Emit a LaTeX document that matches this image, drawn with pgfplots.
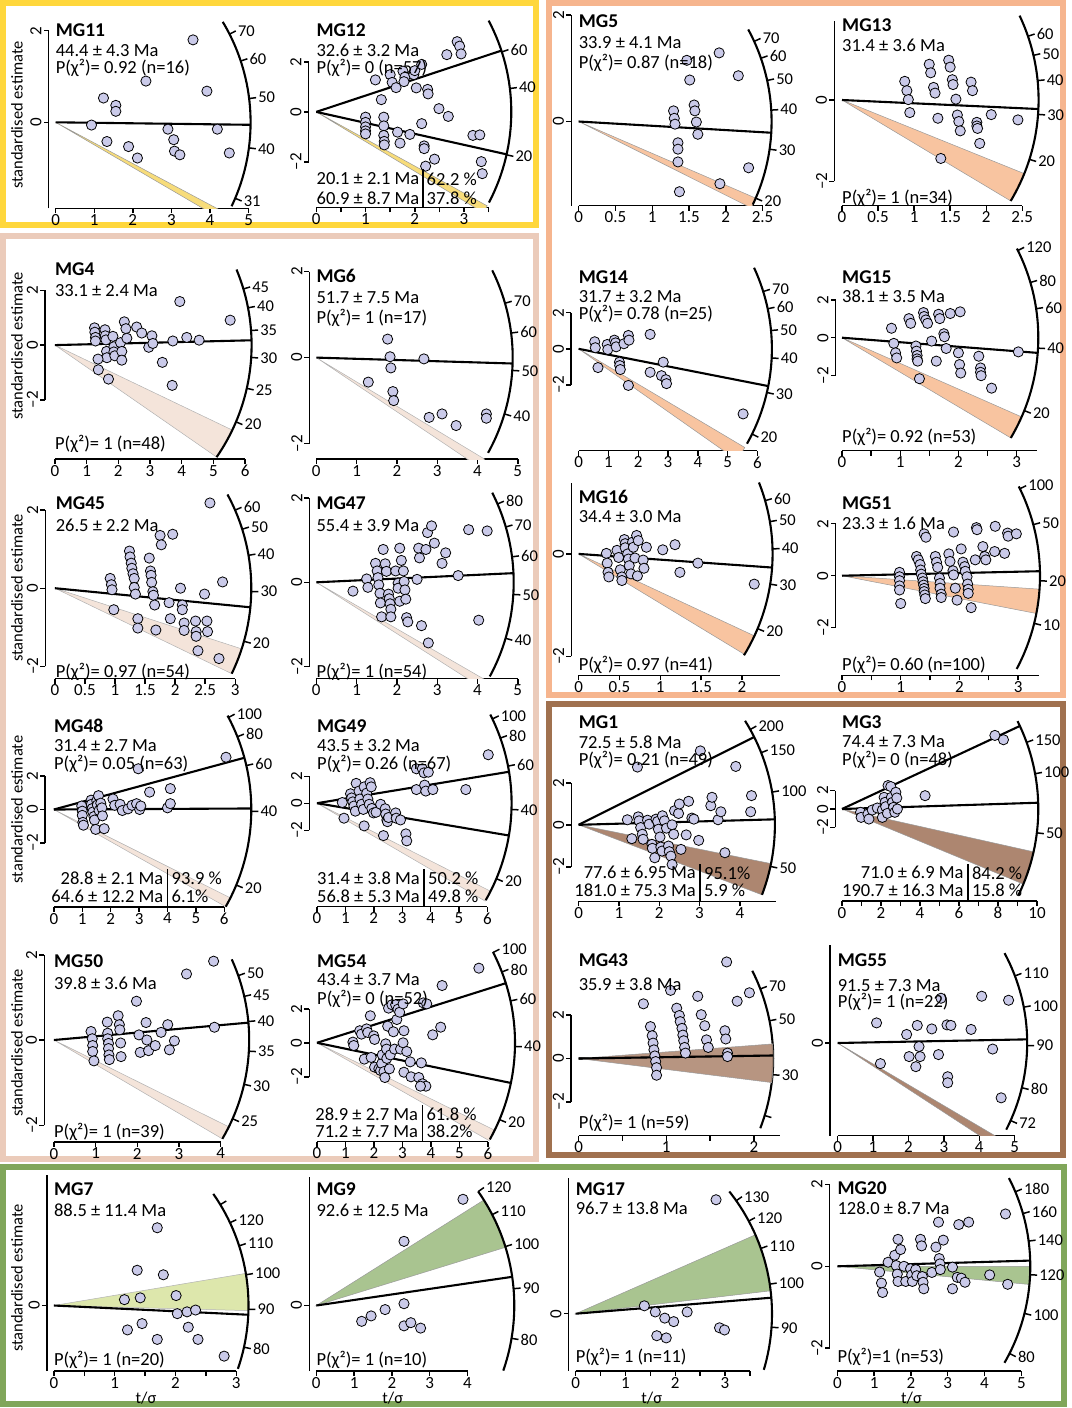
\documentclass[border=0pt]{standalone}
\usepackage{fontspec}
\setmainfont{Carlito}
\usepackage{pgfplots}
\pgfplotsset{compat=1.18}
\definecolor{ptc}{HTML}{CACAE9}
\definecolor{yelB}{HTML}{FFD73C}
\definecolor{orB}{HTML}{F6B58E}
\definecolor{pkB}{HTML}{EBCBBA}
\definecolor{brB}{HTML}{A0714F}
\definecolor{grB}{HTML}{80A65A}
\definecolor{yelW}{HTML}{F7DC7A}
\definecolor{orW}{HTML}{F8C4A0}
\definecolor{pkW}{HTML}{F4E4DA}
\definecolor{brW}{HTML}{AD8670}
\definecolor{grW}{HTML}{A9C490}
\definecolor{lgW}{HTML}{DDE7AC}
\newcommand{\tf}{\fontsize{18.5}{21}\selectfont}
\newcommand{\ttf}{\fontsize{19.5}{22}\selectfont\bfseries}
\newcommand{\tkf}{\fontsize{16.5}{19}\selectfont}
\newcommand{\xtf}{\fontsize{17}{19}\selectfont}
\tikzset{
 rline/.style={black,line width=2.1pt},
 arcst/.style={black,line width=2.1pt},
 arctk/.style={black,line width=1.5pt},
 axst/.style={black,line width=1.4pt},
 yw/.style={fill=yelW,draw=black!40,line width=0.5pt},
 ow/.style={fill=orW,draw=black!40,line width=0.5pt},
 pw/.style={fill=pkW,draw=black!30,line width=0.5pt},
 bw/.style={fill=brW,draw=black!40,line width=0.5pt},
 gw/.style={fill=grW,draw=black!40,line width=0.5pt},
 lw/.style={fill=lgW,draw=black!30,line width=0.5pt},
 txt/.style={anchor=west,font=\tf,inner sep=0pt},
 ttl/.style={anchor=west,font=\ttf,inner sep=0pt},
 txe/.style={anchor=east,font=\tf,inner sep=0pt},
}
\pgfplotsset{
 rp/.style={anchor=origin,clip=false,axis x line*=bottom,axis y line=none,ytick=\empty,
  ymax=5,tick align=outside,major tick length=5pt,
  tick style={black,line width=1.4pt},
  axis line style={black,line width=1.4pt,-},
  every outer x axis line/.append style={-},
  xticklabel style={font=\xtf,inner sep=1pt},
  /pgf/number format/assume math mode=true},
 pts/.style={only marks,mark=*,mark size=5.1pt,mark options={fill=ptc,draw=black,line width=0.8pt}},
}
\newcommand{\setp}[4]{\def\T{#1}\def\K{#2}\def\R{#3pt}\def\YM{#4}}
\newcommand{\ang}[1]{atan(\K*ln(#1/\T))}
\newcommand{\aline}[1]{\draw[rline] (axis cs:0,0) -- ++({\ang{#1}}:\R);}
\newcommand{\dline}[1]{\draw[rline] (axis cs:0,0) -- ++(#1:\R);}
\newcommand{\atk}[2]{\draw[arctk] (axis cs:0,0) ++({\ang{#1}}:\R) -- ++({\ang{#1}}:7pt) node[anchor=west,font=\tkf,inner sep=1.5pt]{#2};}
\newcommand{\rarc}[2]{\draw[arcst] (axis cs:0,0) ++(#1:\R) arc[start angle=#1,end angle=#2,radius=\R];}
\newcommand{\wdg}[3]{\begin{scope}\clip (axis cs:-1,\YM) rectangle (axis cs:30,30); \filldraw[#3] (axis cs:0,0) -- ++(#1:\R) arc[start angle=#1,end angle=#2,radius=\R] -- cycle;\end{scope}}
\newcommand{\yax}[3]{\draw[axst] (axis cs:#1,#2) -- (axis cs:#1,#3);}
\newcommand{\ytk}[3]{\draw[axst] (axis cs:#1,#2) -- ++(-5pt,0pt) node[rotate=90,anchor=south,font=\xtf,inner sep=1.5pt]{#3};}
\newcommand{\yfull}[1]{\yax{#1}{-2}{2}\ytk{#1}{2}{2}\ytk{#1}{0}{0}\ytk{#1}{-2}{–2}}
\begin{document}
\begin{tikzpicture}
\useasboundingbox (0,0) rectangle (1071pt,-1408pt);
\begin{scope}[x=1pt,y=-1pt]
\draw[yelB,line width=6pt] (3,3) rectangle (536,225);
\draw[orB,line width=6pt] (549,3) rectangle (1063,695);
\draw[pkB,line width=6pt] (3,236) rectangle (536,1159);
\draw[brB,line width=6pt] (549,704) rectangle (1063,1155);
\draw[grB,line width=6pt] (3,1167) rectangle (1064,1404);
\end{scope}

% MG11
\setp{44.9}{1.142}{195}{-1.88}
\begin{axis}[rp,at={(55.6pt,-122.3pt)},x=38.6pt,y=45.8pt,xmin=0,xmax=5,ymin=-1.88,xtick={0,1,2,3,4,5},xticklabels={0,1,2,3,4,5}]
\wdg{-30.3}{-28.1}{yw}
\aline{44.4}
\rarc{-25.5}{31}
\atk{31}{31}\atk{40}{40}\atk{50}{50}\atk{60}{60}\atk{70}{70}
\yax{-0.18}{-1.88}{2}\ytk{-0.18}{2}{2}\ytk{-0.18}{0}{0}
\addplot[pts] table[row sep=\\]{x y\\0.93 -0.06\\1.24 0.53\\1.56 0.37\\1.56 0.24\\1.33 -0.42\\1.89 -0.53\\2.12 -0.78\\2.34 0.90\\3.56 1.80\\3.92 0.68\\2.91 -0.15\\3.06 -0.38\\3.08 -0.63\\3.22 -0.71\\4.19 -0.15\\4.50 -0.67\\};
\end{axis}

% MG12
\setp{31.4}{0.5}{195}{-3.82}
\begin{axis}[rp,at={(316.3pt,-111.9pt)},x=49.25pt,y=25pt,xmin=0,xmax=3.5,ymin=-3.82,xtick={0,0.5,1,1.5,2,2.5,3,3.5},xticklabels={0,,1,,2,,3,}]
\wdg{-31.1}{-28.8}{yw}
\aline{60.9}\aline{20.1}
\rarc{-27.7}{27.9}
\atk{20}{20}\atk{40}{40}\atk{60}{60}
\yfull{-0.155}
\addplot[pts] table[row sep=\\]{x y\\1.20 1.28\\1.32 0.49\\1.50 1.49\\1.54 1.18\\1.76 1.63\\1.80 1.39\\1.78 1.21\\1.62 0.97\\1.98 1.49\\2.00 1.65\\2.14 1.90\\2.03 0.96\\2.26 0.90\\2.27 0.72\\2.49 0.13\\2.65 2.29\\2.68 -0.18\\2.86 2.81\\2.91 2.63\\2.94 2.32\\1.00 -0.21\\1.00 -0.42\\1.00 -0.60\\1.00 -0.76\\1.00 -0.88\\1.37 -0.21\\1.37 -0.56\\1.37 -0.94\\1.38 -1.18\\1.38 -1.32\\1.65 -0.81\\1.70 -1.25\\1.90 -0.90\\2.14 -0.47\\2.19 -1.36\\2.19 -1.47\\2.22 -2.17\\2.40 -1.89\\3.18 -0.94\\3.32 -0.92\\3.35 -1.99\\3.37 -2.47\\};
\end{axis}

% MG5
\setp{36.8}{0.71}{193}{-1.58}
\begin{axis}[rp,at={(578.6pt,-121.5pt)},x=73.6pt,y=53.2pt,xmin=0,xmax=2.5,ymin=-1.58,xtick={0,0.5,1,1.5,2,2.5},xticklabels={0,0.5,1,1.5,2,2.5}]
\wdg{-26.6}{-23.4}{ow}
\aline{33.9}
\rarc{-25.5}{28.5}
\atk{20}{20}\atk{30}{30}\atk{40}{40}\atk{50}{50}\atk{60}{60}\atk{70}{70}
\yax{-0.10}{-1.58}{2}\ytk{-0.10}{2}{2}\ytk{-0.10}{0}{0}
\addplot[pts] table[row sep=\\]{x y\\1.29 0.20\\1.30 0.06\\1.31 -0.05\\1.35 -0.40\\1.35 -0.52\\1.35 -0.76\\1.37 -1.32\\1.57 0.31\\1.58 0.20\\1.60 -0.01\\1.62 -0.24\\1.51 0.78\\1.47 1.15\\1.91 1.29\\2.17 0.86\\1.92 -1.17\\2.31 -0.87\\};
\end{axis}

% MG13
\setp{33.9}{0.6}{196.6}{-2.6}
\begin{axis}[rp,at={(842pt,-100pt)},x=72.1pt,y=40.6pt,xmin=0,xmax=2.5,ymin=-2.6,xtick={0,0.5,1,1.5,2,2.5},xticklabels={0,0.5,1,1.5,2,2.5}]
\wdg{-30.9}{-22}{ow}
\aline{31.4}
\rarc{-30.9}{25.4}
\atk{20}{20}\atk{30}{30}\atk{40}{40}\atk{50}{50}\atk{60}{60}
\yax{-0.107}{-2}{1.95}\ytk{-0.107}{0}{0}\ytk{-0.107}{-2}{–2}
\addplot[pts] table[row sep=\\]{x y\\0.87 0.46\\0.90 0.23\\0.92 0.01\\0.94 -0.31\\1.21 0.88\\1.23 0.67\\1.27 0.31\\1.29 0.17\\1.33 -0.45\\1.48 0.98\\1.50 0.81\\1.53 0.50\\1.54 0.38\\1.58 0.02\\1.60 -0.37\\1.62 -0.53\\1.64 -0.76\\1.79 0.44\\1.81 0.23\\1.87 -0.55\\1.87 -0.64\\1.88 -0.70\\1.91 -1.07\\2.07 -0.36\\2.44 -0.49\\1.37 -1.44\\};
\end{axis}

% MG4
\setp{32.2}{0.89}{196.7}{-4.16}
\begin{axis}[rp,at={(54.9pt,-345.1pt)},x=31.7pt,y=27.4pt,xmin=0,xmax=6,ymin=-4.16,xtick={0,1,2,3,4,5,6},xticklabels={0,1,2,3,4,5,6}]
\wdg{-34.7}{-25.6}{pw}
\aline{33.1}
\rarc{-34.7}{22.6}
\atk{20}{20}\atk{25}{25}\atk{30}{30}\atk{35}{35}\atk{40}{40}\atk{45}{45}
\yfull{-0.31}
\addplot[pts] table[row sep=\\]{x y\\1.25 0.63\\1.26 0.47\\1.28 0.28\\1.28 0.15\\1.58 0.56\\1.59 0.34\\1.61 0.19\\1.63 -0.23\\1.64 -0.46\\1.36 -0.51\\1.37 -0.90\\1.69 -1.24\\1.83 0.32\\1.86 -0.06\\1.86 -0.25\\1.89 -0.39\\2.07 0.09\\2.11 -0.23\\2.11 -0.55\\2.19 0.85\\2.24 0.60\\2.27 0.25\\2.58 0.66\\2.74 0.44\\2.96 -0.08\\3.06 0.34\\3.09 0.06\\3.39 -0.63\\3.70 -1.47\\3.72 0.15\\3.94 1.59\\4.16 0.28\\4.55 0.18\\5.53 0.91\\};
\end{axis}

% MG6
\setp{53.2}{1.05}{196.4}{-2.36}
\begin{axis}[rp,at={(316.3pt,-357.6pt)},x=40.3pt,y=43pt,xmin=0,xmax=5,ymin=-2.36,xtick={0,1,2,3,4,5},xticklabels={0,1,2,3,4,5}]
\wdg{-33.9}{-31.1}{pw}
\aline{51.7}
\rarc{-29}{26.4}
\atk{40}{40}\atk{50}{50}\atk{60}{60}\atk{70}{70}
\yfull{-0.17}
\addplot[pts] table[row sep=\\]{x y\\1.77 0.43\\1.83 0.02\\1.85 -0.24\\1.90 -0.79\\1.92 -1.00\\1.29 -0.57\\2.67 -0.03\\2.80 -1.39\\3.12 -1.31\\3.47 -1.58\\4.22 -1.31\\4.22 -1.41\\};
\end{axis}

% MG14
\setp{43.1}{0.64}{193.3}{-5.65}
\begin{axis}[rp,at={(578.6pt,-348.8pt)},x=29.8pt,y=18.04pt,xmin=0,xmax=6,ymin=-5.65,xtick={0,1,2,3,4,5,6},xticklabels={0,1,2,3,4,5,6}]
\wdg{-35.1}{-30.7}{ow}
\aline{31.7}
\rarc{-29.4}{24.8}
\atk{20}{20}\atk{30}{30}\atk{40}{40}\atk{50}{50}\atk{60}{60}\atk{70}{70}
\yfull{-0.25}
\addplot[pts] table[row sep=\\]{x y\\0.54 0.39\\0.56 0.06\\0.65 -1.04\\0.96 0.24\\0.98 -0.04\\1.20 0.48\\1.24 0.33\\1.26 0.11\\1.37 -0.74\\1.38 -0.93\\1.40 -1.15\\1.52 0.28\\1.67 0.74\\1.69 0.48\\1.67 -2.03\\2.40 0.80\\2.40 -1.30\\2.84 -0.74\\2.78 -1.49\\2.93 -1.71\\2.95 -1.93\\5.52 -3.61\\};
\end{axis}

% MG15
\setp{44.5}{0.5}{196.3}{-5.98}
\begin{axis}[rp,at={(842pt,-337.7pt)},x=58.2pt,y=18.9pt,xmin=0,xmax=3.35,ymin=-5.98,xtick={0,0.5,1,1.5,2,2.5,3},xticklabels={0,,1,,2,,3}]
\wdg{-30.7}{-23.8}{ow}
\aline{38.1}
\rarc{-30.7}{27}
\atk{20}{20}\atk{40}{40}\atk{60}{60}\atk{80}{80}\atk{120}{120}
\yfull{-0.11}
\addplot[pts] table[row sep=\\]{x y\\0.85 0.50\\0.89 -0.30\\0.92 -0.80\\0.94 -1.07\\1.15 1.01\\1.18 0.76\\1.27 -0.44\\1.28 -0.71\\1.29 -0.94\\1.29 -1.12\\1.30 -1.24\\1.33 -2.17\\1.40 1.33\\1.41 1.12\\1.44 0.94\\1.47 0.76\\1.54 -0.18\\1.62 -1.24\\1.66 1.24\\1.68 1.01\\1.75 0.21\\1.76 0.05\\1.79 -0.57\\1.86 1.28\\2.03 1.37\\2.00 -0.80\\2.02 -1.42\\2.04 -1.87\\2.35 -0.98\\2.38 -1.60\\2.38 -1.83\\2.39 -2.01\\2.57 -2.67\\3.03 -0.75\\};
\end{axis}

% MG45
\setp{30.8}{0.65}{196.4}{-2.31}
\begin{axis}[rp,at={(54.9pt,-588.2pt)},x=60.1pt,y=39.1pt,xmin=0,xmax=3,ymin=-2.31,xtick={0,0.5,1,1.5,2,2.5,3},xticklabels={0,0.5,1,1.5,2,2.5,3}]
\wdg{-25.8}{-18}{pw}
\aline{26.5}
\rarc{-25.8}{28.5}
\atk{20}{20}\atk{30}{30}\atk{40}{40}\atk{50}{50}\atk{60}{60}
\yfull{-0.16}
\addplot[pts] table[row sep=\\]{x y\\0.92 0.25\\0.94 0.09\\0.95 -0.04\\0.98 -0.55\\1.24 0.95\\1.25 0.80\\1.27 0.64\\1.28 0.51\\1.30 0.37\\1.32 0.25\\1.32 0.02\\1.34 -0.15\\1.38 -0.78\\1.38 -1.02\\1.57 0.77\\1.59 0.44\\1.60 0.33\\1.61 0.15\\1.63 -0.09\\1.64 -0.18\\1.66 -0.43\\1.68 -1.07\\1.75 1.35\\1.77 1.11\\1.96 1.38\\1.90 -0.37\\1.92 -0.78\\2.09 0.00\\2.12 -0.43\\2.12 -0.55\\2.15 -0.89\\2.15 -1.08\\2.34 -0.84\\2.35 -1.11\\2.35 -1.23\\2.38 -1.60\\2.49 -0.15\\2.53 -0.84\\2.54 -1.11\\2.58 2.18\\2.79 0.16\\2.73 -1.80\\};
\end{axis}

% MG47
\setp{53}{1.05}{197.4}{-2.29}
\begin{axis}[rp,at={(316.3pt,-582.3pt)},x=40.3pt,y=42.1pt,xmin=0,xmax=5,ymin=-2.29,xtick={0,1,2,3,4,5},xticklabels={0,1,2,3,4,5}]
\wdg{-32.5}{-30}{pw}
\aline{55.4}
\rarc{-28.5}{27}
\atk{40}{40}\atk{50}{50}\atk{60}{60}\atk{70}{70}\atk{80}{80}
\yfull{-0.17}
\addplot[pts] table[row sep=\\]{x y\\0.91 -0.21\\1.25 0.08\\1.28 -0.12\\1.47 0.45\\1.51 0.27\\1.53 0.11\\1.55 -0.06\\1.58 -0.26\\1.59 -0.49\\1.62 -0.82\\1.66 0.78\\1.71 0.44\\1.74 0.26\\1.79 -0.28\\1.81 -0.39\\1.83 -0.51\\1.85 -0.64\\1.85 -0.82\\1.97 0.27\\2.03 -0.02\\2.03 -0.14\\2.07 0.81\\2.11 0.52\\2.07 -0.45\\2.16 0.27\\2.18 0.02\\2.20 -0.18\\2.22 -0.40\\2.24 -0.84\\2.27 -0.94\\2.50 0.07\\2.54 0.81\\2.56 0.58\\2.61 -1.03\\2.72 0.78\\2.76 1.18\\2.86 1.34\\2.93 0.93\\2.78 -1.44\\3.21 0.70\\3.12 0.45\\3.52 0.16\\3.78 1.25\\4.24 1.22\\4.03 -0.90\\};
\end{axis}

% MG16
\setp{38.4}{0.64}{194}{-2.37}
\begin{axis}[rp,at={(578.6pt,-553.9pt)},x=81.7pt,y=51.2pt,xmin=0,xmax=2.46,ymin=-2.37,xtick={0,0.5,1,1.5,2},xticklabels={0,0.5,1,1.5,2}]
\wdg{-31.2}{-25}{ow}
\aline{34.4}
\rarc{-31.5}{21.6}
\atk{20}{20}\atk{30}{30}\atk{40}{40}\atk{50}{50}\atk{60}{60}
\yax{-0.09}{-2}{1.38}\ytk{-0.09}{0}{0}\ytk{-0.09}{-2}{–2}
\addplot[pts] table[row sep=\\]{x y\\0.34 0.01\\0.35 -0.18\\0.36 -0.36\\0.37 -0.45\\0.47 0.07\\0.49 -0.07\\0.51 -0.31\\0.53 -0.45\\0.53 -0.52\\0.56 0.28\\0.57 0.20\\0.57 0.12\\0.60 0.00\\0.61 -0.10\\0.62 -0.23\\0.64 -0.39\\0.66 0.23\\0.67 0.13\\0.69 -0.08\\0.72 -0.43\\0.71 0.36\\0.73 0.26\\0.79 -0.12\\0.80 -0.28\\0.83 0.13\\1.03 0.08\\1.18 0.18\\1.24 -0.36\\1.46 -0.18\\2.15 -0.59\\};
\end{axis}

% MG51
\setp{21.7}{0.32}{198}{-3.83}
\begin{axis}[rp,at={(842pt,-575.7pt)},x=58.7pt,y=26pt,xmin=0,xmax=3.35,ymin=-3.83,xtick={0,0.5,1,1.5,2,2.5,3},xticklabels={0,,1,,2,,3}]
\wdg{-11}{-3.9}{ow}
\aline{23.3}
\rarc{-28.1}{26.8}
\atk{10}{10}\atk{20}{20}\atk{50}{50}\atk{100}{100}
\yfull{-0.11}
\addplot[pts] table[row sep=\\]{x y\\0.98 0.13\\0.98 -0.04\\0.98 -0.19\\0.98 -0.39\\0.98 -0.55\\1.0 -1.07\\1.27 0.74\\1.30 0.61\\1.33 0.43\\1.34 0.22\\1.35 0.06\\1.37 -0.09\\1.38 -0.23\\1.39 -0.36\\1.40 -0.49\\1.40 -0.61\\1.41 -0.74\\1.42 -0.88\\1.40 1.61\\1.43 1.48\\1.59 0.74\\1.61 0.52\\1.63 0.32\\1.66 -0.09\\1.67 -0.30\\1.67 -0.48\\1.69 -0.71\\1.69 -0.84\\1.82 0.84\\1.84 0.55\\1.89 0.19\\1.90 0.03\\1.90 1.68\\2.03 1.03\\1.93 -0.48\\1.96 -0.94\\2.06 0.52\\2.09 0.35\\2.10 0.17\\2.13 -0.04\\2.14 -0.32\\2.15 -0.52\\2.15 -0.68\\2.20 -1.23\\2.29 1.85\\2.30 1.77\\2.27 0.61\\2.43 0.74\\2.40 1.12\\2.45 0.61\\2.61 1.90\\2.60 0.93\\2.77 0.86\\2.82 1.64\\2.83 1.52\\2.97 1.61\\};
\end{axis}

% MG48
\setp{40.6}{0.585}{197.4}{-5.83}
\begin{axis}[rp,at={(53.9pt,-809.5pt)},x=28.4pt,y=16.7pt,xmin=0,xmax=6,ymin=-5.83,xtick={0,1,2,3,4,5,6},xticklabels={0,1,2,3,4,5,6}]
\wdg{-29.5}{-26.6}{pw}
\aline{64.6}\dline{0.3}
\rarc{-29.5}{28.4}
\atk{20}{20}\atk{40}{40}\atk{60}{60}\atk{80}{80}\atk{100}{100}
\yfull{-0.31}
\addplot[pts] table[row sep=\\]{x y\\0.98 0.21\\1.00 -0.10\\1.00 -0.35\\1.02 -0.77\\1.04 -0.94\\1.31 0.56\\1.32 0.31\\1.35 0.06\\1.37 -0.15\\1.41 -0.42\\1.43 -0.63\\1.47 -1.19\\1.51 0.52\\1.53 0.27\\1.57 0.83\\1.59 -0.06\\1.65 0.38\\1.69 0.10\\1.71 -0.38\\1.77 -1.15\\2.08 0.63\\2.14 0.25\\2.33 0.31\\2.41 -0.06\\2.61 0.04\\2.75 0.25\\2.91 0.35\\3.02 0.00\\3.06 0.21\\2.97 2.44\\3.37 1.04\\4.00 0.10\\4.10 0.35\\4.10 1.25\\6.06 3.13\\};
\end{axis}

% MG49
\setp{42.4}{0.56}{194.6}{-7.67}
\begin{axis}[rp,at={(317pt,-803.2pt)},x=28.4pt,y=13.5pt,xmin=0,xmax=6,ymin=-7.67,xtick={0,1,2,3,4,5,6},xticklabels={0,1,2,3,4,5,6}]
\wdg{-30.2}{-26.9}{pw}
\aline{56.8}\aline{31.4}
\rarc{-29.9}{27.1}
\atk{20}{20}\atk{40}{40}\atk{60}{60}\atk{80}{80}\atk{100}{100}
\yfull{-0.27}
\addplot[pts] table[row sep=\\]{x y\\0.89 0.05\\0.95 -1.11\\1.18 0.70\\1.22 0.39\\1.26 0.10\\1.30 -0.21\\1.35 -0.59\\1.38 1.47\\1.48 0.90\\1.51 0.31\\1.57 -0.08\\1.63 -0.46\\1.66 -1.68\\1.66 1.21\\1.75 0.75\\1.79 0.31\\1.84 -0.08\\1.87 1.52\\1.91 1.21\\1.93 -0.39\\1.99 -0.72\\2.08 -0.67\\2.24 -0.08\\2.40 -0.41\\2.42 -0.80\\2.46 -1.24\\2.48 -1.37\\2.52 -1.06\\2.34 -2.40\\2.77 -0.72\\2.79 -1.11\\2.94 -1.24\\3.13 -2.27\\3.16 -2.79\\3.50 2.55\\3.71 2.55\\3.77 2.25\\3.92 2.30\\3.50 1.01\\3.79 1.34\\3.83 0.90\\4.08 1.01\\5.24 1.01\\6.03 3.59\\};
\end{axis}

% MG1
\setp{73.8}{0.557}{196.3}{-3.64}
\begin{axis}[rp,at={(578.6pt,-824.8pt)},x=40.3pt,y=21pt,xmin=0,xmax=4.9,ymin=-3.64,xtick={0,1,2,3,4},xticklabels={0,1,2,3,4}]
\wdg{-20.9}{-11.4}{bw}
\aline{77.6}\aline{181}
\rarc{-20.9}{32}
\atk{50}{50}\atk{100}{100}\atk{150}{150}\atk{200}{200}
\yfull{-0.18}
\addplot[pts] table[row sep=\\]{x y\\1.21 0.24\\1.32 -0.66\\1.48 0.38\\1.50 0.19\\1.54 -0.13\\1.58 -0.45\\1.60 -0.69\\1.71 0.22\\1.75 0.03\\1.82 -0.93\\1.83 -1.12\\1.89 -1.57\\1.92 0.27\\1.96 0.16\\1.98 -0.21\\2.02 -0.58\\2.04 -1.06\\2.07 -1.25\\2.08 0.43\\2.13 0.19\\2.18 -0.16\\2.23 -1.01\\2.25 -1.28\\2.29 -1.49\\2.32 0.00\\2.36 -0.45\\2.32 -1.89\\2.38 0.67\\2.48 0.54\\2.50 0.99\\2.54 -1.17\\2.67 -0.48\\2.73 1.12\\2.81 0.32\\2.86 0.27\\2.98 -0.74\\3.02 3.52\\3.28 0.91\\3.31 1.31\\3.46 0.24\\3.53 0.62\\3.63 -1.33\\3.90 2.78\\4.27 0.62\\4.29 1.39\\1.46 2.75\\};
\end{axis}

% MG3
\setp{66}{0.44}{196.3}{-10}
\begin{axis}[rp,at={(842pt,-809pt)},x=19.5pt,y=9.2pt,xmin=0,xmax=10,ymin=-10,xtick={0,1,2,3,4,5,6,7,8,9,10},xticklabels={0,,2,,4,,6,,8,,10}]
\wdg{-22.5}{-12.6}{bw}
\aline{71}\aline{190.7}
\rarc{-26}{26.6}
\atk{50}{50}\atk{100}{100}\atk{150}{150}
\yfull{-0.34}
\addplot[pts] table[row sep=\\]{x y\\0.95 -0.36\\0.98 -0.91\\1.33 -0.55\\1.38 -1.09\\1.55 -0.11\\1.81 0.11\\2.07 -0.11\\2.07 -0.91\\2.16 1.27\\2.21 0.73\\2.24 0.25\\2.33 -0.47\\2.36 2.55\\2.50 2.44\\2.53 1.27\\2.59 0.73\\2.64 0.18\\2.71 -0.36\\2.76 1.82\\2.81 1.20\\2.84 0.00\\4.26 1.45\\7.84 8.0\\8.28 7.53\\};
\end{axis}

% MG50
\setp{36.8}{1.14}{195.3}{-2.39}
\begin{axis}[rp,at={(53.9pt,-1040pt)},x=41.7pt,y=42.6pt,xmin=0,xmax=4,ymin=-2.39,xtick={0,1,2,3,4},xticklabels={0,1,2,3,4}]
\wdg{-30.4}{-26.4}{pw}
\aline{39.8}
\rarc{-30.4}{24.4}
\atk{25}{25}\atk{30}{30}\atk{35}{35}\atk{40}{40}\atk{45}{45}\atk{50}{50}
\yfull{-0.23}
\addplot[pts] table[row sep=\\]{x y\\0.89 0.20\\0.92 0.03\\0.93 -0.13\\0.93 -0.27\\0.96 -0.49\\1.28 0.42\\1.29 0.16\\1.29 0.03\\1.31 -0.08\\1.31 -0.20\\1.32 -0.35\\1.33 -0.46\\1.54 0.57\\1.57 0.36\\1.58 0.24\\1.60 -0.07\\1.61 -0.39\\1.98 0.91\\2.04 0.12\\2.07 -0.29\\2.21 0.41\\2.23 0.00\\2.27 -0.25\\2.43 -0.13\\2.57 0.18\\2.73 0.36\\2.77 -0.23\\2.89 -0.02\\3.18 1.55\\3.83 1.85\\3.85 0.30\\};
\end{axis}

% MG54
\setp{41.3}{0.58}{198}{-5.82}
\begin{axis}[rp,at={(317pt,-1042.8pt)},x=28.5pt,y=17pt,xmin=0,xmax=6,ymin=-5.82,xtick={0,1,2,3,4,5,6},xticklabels={0,1,2,3,4,5,6}]
\wdg{-29.6}{-26.2}{pw}
\aline{71.2}\aline{28.9}
\rarc{-29.2}{27.3}
\atk{20}{20}\atk{40}{40}\atk{60}{60}\atk{80}{80}\atk{100}{100}
\yfull{-0.27}
\addplot[pts] table[row sep=\\]{x y\\1.26 0.04\\1.29 -0.16\\1.50 0.71\\1.56 0.51\\1.66 -0.96\\1.74 0.82\\1.78 0.61\\1.87 1.59\\1.90 -0.86\\1.99 0.41\\2.02 0.20\\2.02 -1.43\\2.17 -1.53\\2.23 -1.63\\2.27 -1.22\\2.29 -0.71\\2.35 -1.69\\2.38 -2.04\\2.41 -0.06\\2.44 -0.37\\2.45 -0.92\\2.48 0.98\\2.51 2.04\\2.54 -1.53\\2.57 -0.71\\2.63 2.24\\2.68 0.65\\2.72 -0.37\\2.76 2.24\\2.80 1.37\\2.84 1.98\\2.90 1.80\\2.93 -0.37\\3.02 2.29\\3.02 0.00\\3.05 0.71\\3.05 -1.73\\3.15 -0.51\\3.27 -1.12\\3.30 -2.00\\3.57 -2.04\\3.66 -1.18\\3.70 -2.41\\3.82 -2.55\\3.63 -2.55\\3.73 2.35\\3.85 2.29\\4.06 0.47\\4.34 0.92\\4.39 3.37\\5.68 4.39\\};
\end{axis}

% MG43
\setp{34.9}{0.55}{194.6}{-3.56}
\begin{axis}[rp,at={(578.6pt,-1058.5pt)},x=87.6pt,y=21.7pt,xmin=0,xmax=2.3,ymin=-3.56,xtick={0,0.5,1,1.5,2},xticklabels={0,,1,,2}]
\aline{35.9}
\rarc{-21}{26.8}
\atk{20}{}\atk{30}{30}\atk{50}{50}\atk{70}{70}
\yfull{-0.085}
\addplot[pts] table[row sep=\\]{x y\\0.74 2.52\\0.82 1.47\\0.84 1.05\\0.85 0.71\\0.86 0.40\\0.87 0.12\\0.88 -0.14\\0.89 -0.42\\0.89 -0.77\\1.05 3.14\\1.12 2.32\\1.15 1.98\\1.16 1.70\\1.18 1.39\\1.19 1.08\\1.20 0.82\\1.21 0.51\\1.22 0.25\\1.36 2.87\\1.40 2.02\\1.44 1.51\\1.46 0.86\\1.48 0.51\\1.67 1.28\\1.68 0.90\\1.69 4.45\\1.70 0.25\\1.70 0.09\\1.81 2.64\\1.95 3.03\\};
\wdg{-7.1}{4.3}{bw,fill opacity=0.88}
\aline{35.9}
\end{axis}

% MG55
\setp{90.6}{1.95}{189.6}{-1.84}
\begin{axis}[rp,at={(837.6pt,-1043pt)},x=35.4pt,y=50.3pt,xmin=0,xmax=5,ymin=-1.84,xtick={0,1,2,3,4,5},xticklabels={0,1,2,3,4,5}]
\wdg{-33.1}{-30.5}{bw}
\aline{91.5}
\rarc{-27.2}{28.3}
\atk{72}{72}\atk{80}{80}\atk{90}{90}\atk{100}{100}\atk{110}{110}
\yax{-0.21}{-1.84}{1.95}\ytk{-0.21}{0}{0}
\addplot[pts] table[row sep=\\]{x y\\1.10 0.40\\1.21 -0.41\\1.95 0.17\\2.02 -0.27\\2.21 -0.47\\2.25 0.35\\2.30 -0.07\\2.33 -0.27\\2.66 0.28\\2.85 -0.23\\2.92 0.89\\3.09 0.36\\3.20 0.35\\3.11 -0.67\\3.11 -0.79\\3.77 0.27\\4.07 0.93\\4.38 -0.12\\4.62 -1.09\\4.83 0.85\\};
\end{axis}

% MG7
\setp{91}{1.7}{194.6}{-1.45}
\begin{axis}[rp,at={(53.9pt,-1305.5pt)},x=60.8pt,y=45.2pt,xmin=0,xmax=3,ymin=-1.45,xtick={0,0.5,1,1.5,2,2.5,3},xticklabels={0,,1,,2,,3}]
\wdg{-1.5}{9.5}{lw}
\aline{88.5}
\rarc{-19}{35}
\atk{80}{80}\atk{90}{90}\atk{100}{100}\atk{110}{110}\atk{120}{120}\atk{130}{}
\yax{-0.115}{-1.45}{2.88}\ytk{-0.115}{0}{0}
\addplot[pts] table[row sep=\\]{x y\\1.16 0.13\\1.21 -0.54\\1.37 0.78\\1.42 0.17\\1.45 -0.40\\1.70 1.72\\1.70 -0.75\\1.80 0.68\\2.01 0.22\\2.03 -0.18\\2.19 -0.14\\2.21 -0.48\\2.33 -0.10\\2.37 -0.75\\2.80 -1.12\\};
\end{axis}

% MG9
\setp{86.5}{2.15}{198}{-1.45}
\begin{axis}[rp,at={(316.3pt,-1305.5pt)},x=37.8pt,y=45.2pt,xmin=0,xmax=4,ymin=-1.45,xtick={0,1,2,3,4},xticklabels={0,1,2,3,4}]
\wdg{17.1}{32.2}{gw}
\aline{92.6}
\rarc{-19.2}{35.2}
\atk{80}{80}\atk{90}{90}\atk{100}{100}\atk{110}{110}\atk{120}{120}
\yax{-0.185}{-1.45}{2.85}\ytk{-0.185}{0}{0}
\addplot[pts] table[row sep=\\]{x y\\1.20 -0.35\\1.45 -0.23\\1.82 -0.09\\2.32 0.04\\2.32 -0.45\\2.50 -0.38\\2.76 -0.50\\2.32 1.42\\3.88 2.35\\};
\end{axis}

% MG17
\setp{93}{2.1}{196.4}{-1.30}
\begin{axis}[rp,at={(575.6pt,-1313.7pt)},x=49.8pt,y=44pt,xmin=0,xmax=3.5,ymin=-1.30,xtick={0,0.5,1,1.5,2,2.5,3,3.5},xticklabels={0,,1,,2,,3,}]
\wdg{6.7}{23.7}{gw}
\aline{96.7}
\rarc{-16.6}{38.5}
\atk{90}{90}\atk{100}{100}\atk{110}{110}\atk{120}{120}\atk{130}{130}
\yax{-0.137}{-1.30}{3.08}\ytk{-0.137}{0}{0}
\addplot[pts] table[row sep=\\]{x y\\1.38 0.18\\1.60 0.04\\1.79 -0.10\\1.97 -0.18\\1.63 -0.50\\1.82 -0.55\\2.24 0.04\\2.89 -0.32\\2.99 -0.37\\2.82 2.59\\};
\end{axis}

% MG20
\setp{124.7}{1.14}{193}{-2.56}
\begin{axis}[rp,at={(837.3pt,-1266.3pt)},x=36.8pt,y=40.9pt,xmin=0,xmax=5,ymin=-2.56,xtick={0,1,2,3,4,5},xticklabels={0,1,2,3,4,5}]
\wdg{-5.4}{0}{gw}
\aline{128}
\rarc{-30}{27.2}
\atk{80}{80}\atk{100}{100}\atk{120}{120}\atk{140}{140}\atk{160}{160}\atk{180}{180}
\yfull{-0.21}
\addplot[pts] table[row sep=\\]{x y\\1.15 -0.14\\1.20 -0.41\\1.23 -0.64\\1.38 0.10\\1.56 0.27\\1.60 0.02\\1.63 -0.19\\1.65 -0.37\\1.65 0.66\\1.72 0.41\\1.81 0.00\\1.86 -0.37\\1.99 -0.06\\2.02 -0.21\\2.04 -0.37\\2.13 -0.08\\2.16 -0.23\\2.26 0.66\\2.29 0.50\\2.31 -0.25\\2.33 -0.39\\2.35 -0.55\\2.57 -0.15\\2.68 0.47\\2.75 1.08\\2.77 0.19\\2.79 0.06\\2.80 -0.08\\2.88 0.64\\3.13 -0.02\\3.13 -0.55\\3.26 -0.27\\3.37 -0.29\\3.47 -0.39\\3.30 1.02\\3.57 1.08\\4.14 -0.21\\4.57 1.28\\4.63 -0.44\\};
\end{axis}

% ---------- texts ----------
\begin{scope}[x=1pt,y=-1pt]
\foreach \yy in {115,346,588,809.5,1043,1278} {\node[rotate=90,font=\fontsize{16.5}{19}\selectfont,inner sep=0pt] at (17,\yy) {standardised estimate};}
\foreach \xx in {146,392.8,651.7,911.5} {\node[font=\tkf,inner sep=0pt] at (\xx,1398) {t/σ};}
% MG11
\node[ttl] at (55.6,30) {MG11};
\node[txt] at (55.6,50.4) {44.4 ± 4.3 Ma};
\node[txt] at (55.6,68) {P(χ²)= 0.92 (n=16)};
% MG12
\node[ttl] at (316.3,30) {MG12};
\node[txt] at (316.3,50.4) {32.6 ± 3.2 Ma};
\node[txt] at (316.3,68) {P(χ²)= 0 (n=57)};
\node[txe] at (419.5,179) {20.1 ± 2.1 Ma};
\node[txt] at (426.5,179) {62.2 \%};
\node[txe] at (419.5,198) {60.9 ± 8.7 Ma};
\node[txt] at (426.5,198) {37.8 \%};
\draw[axst] (423,169) -- (423,207.5);
% MG5
\node[ttl] at (578.6,21) {MG5};
\node[txt] at (578.6,42.6) {33.9 ± 4.1 Ma};
\node[txt] at (578.6,62.8) {P(χ²)= 0.87 (n=18)};
% MG13
\node[ttl] at (842,25.5) {MG13};
\node[txt] at (842,45.3) {31.4 ± 3.6 Ma};
\node[txt] at (842,198) {P(χ²)= 1 (n=34)};
% MG4
\node[ttl] at (54.9,269) {MG4};
\node[txt] at (54.9,290.6) {33.1 ± 2.4 Ma};
\node[txt] at (54.9,444) {P(χ²)= 1 (n=48)};
% MG6
\node[ttl] at (316.3,276) {MG6};
\node[txt] at (316.3,298) {51.7 ± 7.5 Ma};
\node[txt] at (316.3,318) {P(χ²)= 1 (n=17)};
% MG14
\node[ttl] at (578.6,277) {MG14};
\node[txt] at (578.6,297) {31.7 ± 3.2 Ma};
\node[txt] at (578.6,314) {P(χ²)= 0.78 (n=25)};
% MG15
\node[ttl] at (842,277) {MG15};
\node[txt] at (842,296) {38.1 ± 3.5 Ma};
\node[txt] at (842,436.7) {P(χ²)= 0.92 (n=53)};
% MG45
\node[ttl] at (55.6,503) {MG45};
\node[txt] at (55.6,525.6) {26.5 ± 2.2 Ma};
\node[txt] at (55.6,671.6) {P(χ²)= 0.97 (n=54)};
% MG47
\node[ttl] at (316.3,503) {MG47};
\node[txt] at (316.3,525.6) {55.4 ± 3.9 Ma};
\node[txt] at (316.3,671.6) {P(χ²)= 1 (n=54)};
% MG16
\node[ttl] at (578.6,497) {MG16};
\node[txt] at (578.6,517) {34.4 ± 3.0 Ma};
\node[txt] at (578.6,664.6) {P(χ²)= 0.97 (n=41)};
% MG51
\node[ttl] at (842,503) {MG51};
\node[txt] at (842,523.7) {23.3 ± 1.6 Ma};
\node[txt] at (842,664.6) {P(χ²)= 0.60 (n=100)};
% MG48
\node[ttl] at (53.9,726) {MG48};
\node[txt] at (53.9,745.2) {31.4 ± 2.7 Ma};
\node[txt] at (53.9,763.6) {P(χ²)= 0.05 (n=63)};
\node[txe] at (163.5,878) {28.8 ± 2.1 Ma};
\node[txt] at (171.5,878) {93.9 \%};
\node[txe] at (163.5,896.4) {64.6 ± 12.2 Ma};
\node[txt] at (171.5,896.4) {6.1\%};
\draw[axst] (167.5,869) -- (167.5,907);
% MG49
\node[ttl] at (317,726) {MG49};
\node[txt] at (317,745.2) {43.5 ± 3.2 Ma};
\node[txt] at (317,763.6) {P(χ²)= 0.26 (n=67)};
\node[txe] at (420,878) {31.4 ± 3.8 Ma};
\node[txt] at (428,878) {50.2 \%};
\node[txe] at (420,896.4) {56.8 ± 5.3 Ma};
\node[txt] at (428,896.4) {49.8 \%};
\draw[axst] (424,869) -- (424,907);
% MG1
\node[ttl] at (578.6,721.8) {MG1};
\node[txt] at (578.6,741.9) {72.5 ± 5.8 Ma};
\node[txt] at (578.6,760.4) {P(χ²)= 0.21 (n=49)};
\node[txe] at (696,872.8) {77.6 ± 6.95 Ma};
\node[txt] at (704,872.8) {95.1\%};
\node[txe] at (696,890.3) {181.0 ± 75.3 Ma};
\node[txt] at (704,890.3) {5.9 \%};
\draw[axst] (700,864) -- (700,901.3);
% MG3
\node[ttl] at (842,721.8) {MG3};
\node[txt] at (842,741.9) {74.4 ± 7.3 Ma};
\node[txt] at (842,760.4) {P(χ²)= 0 (n=48)};
\node[txe] at (963.8,872.8) {71.0 ± 6.9 Ma};
\node[txt] at (971.8,872.8) {84.2 \%};
\node[txe] at (963.8,890.3) {190.7 ± 16.3 Ma};
\node[txt] at (971.8,890.3) {15.8 \%};
\draw[axst] (967.8,864) -- (967.8,901.3);
% MG50
\node[ttl] at (53.9,961) {MG50};
\node[txt] at (53.9,983.7) {39.8 ± 3.6 Ma};
\node[txt] at (53.9,1132.4) {P(χ²)= 1 (n=39)};
% MG54
\node[ttl] at (317,961) {MG54};
\node[txt] at (317,979.5) {43.4 ± 3.7 Ma};
\node[txt] at (317,999.3) {P(χ²)= 0 (n=52)};
\node[txe] at (418.3,1114) {28.9 ± 2.7 Ma};
\node[txt] at (426.3,1114) {61.8 \%};
\node[txe] at (418.3,1131.4) {71.2 ± 7.7 Ma};
\node[txt] at (426.3,1131.4) {38.2\%};
\draw[axst] (422.3,1105) -- (422.3,1141.8);
% MG43
\node[ttl] at (578.6,960.2) {MG43};
\node[txt] at (578.6,984.7) {35.9 ± 3.8 Ma};
\node[txt] at (578.6,1123) {P(χ²)= 1 (n=59)};
% MG55
\node[ttl] at (837.6,960.2) {MG55};
\node[txt] at (837.6,985.3) {91.5 ± 7.3 Ma};
\node[txt] at (837.6,1002) {P(χ²)= 1 (n=22)};
% MG7
\node[ttl] at (53.9,1189) {MG7};
\node[txt] at (53.9,1210) {88.5 ± 11.4 Ma};
\node[txt] at (53.9,1360) {P(χ²)= 1 (n=20)};
% MG9
\node[ttl] at (316.3,1189) {MG9};
\node[txt] at (316.3,1210) {92.6 ± 12.5 Ma};
\node[txt] at (316.3,1360) {P(χ²)= 1 (n=10)};
% MG17
\node[ttl] at (575.6,1189.4) {MG17};
\node[txt] at (575.6,1208.7) {96.7 ± 13.8 Ma};
\node[txt] at (575.6,1357) {P(χ²)= 1 (n=11)};
% MG20
\node[ttl] at (837.3,1188.4) {MG20};
\node[txt] at (837.3,1208.7) {128.0 ± 8.7 Ma};
\node[txt] at (837.3,1357) {P(χ²)=1 (n=53)};
\end{scope}
\end{tikzpicture}
\end{document}
